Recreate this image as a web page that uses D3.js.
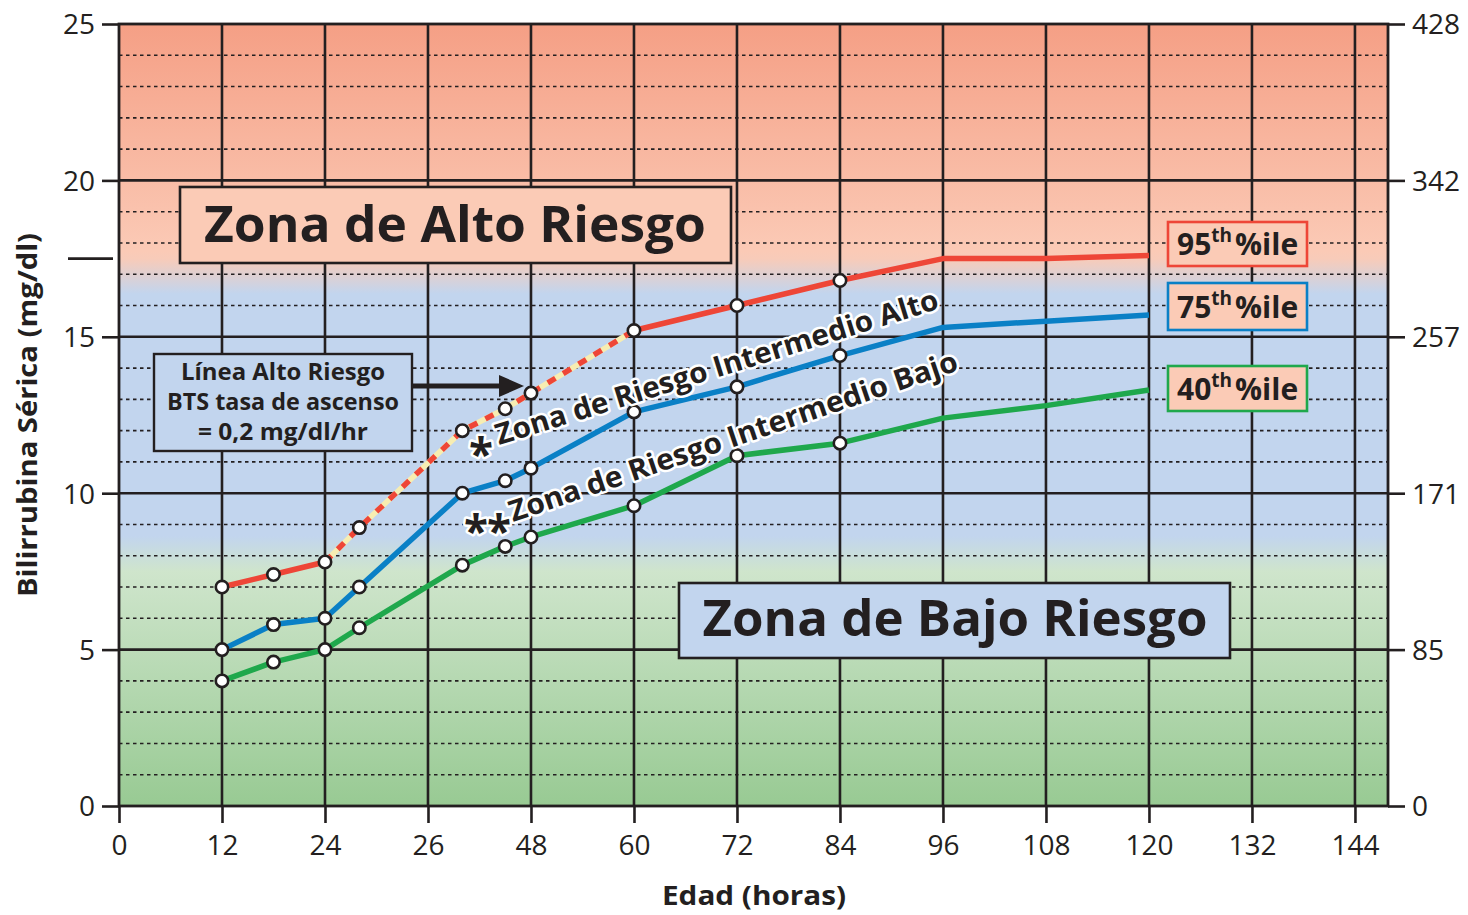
<!DOCTYPE html>
<html><head><meta charset="utf-8">
<script src="https://cdn.jsdelivr.net/npm/d3@7"></script>
<style>
html,body{margin:0;padding:0;background:#fff;}
svg{display:block;font-family:"Open Sans","Noto Sans",sans-serif;}
</style></head>
<body>
<svg id="chart" width="1468" height="915"></svg>
<script>
// ---- data ----
const xTickValues = [0,12,24,36,48,60,72,84,96,108,120,132,144];
const xTickLabels = ["0","12","24","26","48","60","72","84","96","108","120","132","144"];
const yTickValues = [0,5,10,15,20,25];
const yTickLabels = ["0","5","10","15","20","25"];
const yRightLabels = ["0","85","171","257","342","428"];

const hours = [12,18,24,28,40,45,48,60,72,84,96,108,120];
const p95 = [7.0,7.4,7.8,8.9,12.0,12.7,13.2,15.2,16.0,16.8,17.5,17.5,17.6];
const p75 = [5.0,5.8,6.0,7.0,10.0,10.4,10.8,12.6,13.4,14.4,15.3,15.5,15.7];
const p40 = [4.0,4.6,5.0,5.7,7.7,8.3,8.6,9.6,11.2,11.6,12.4,12.8,13.3];
const markerHours = [12,18,24,28,40,45,48,60,72,84];
const dashedRange = [24,60];

const seriesNames = ["95th","75th","40th"];
const seriesColors = ["#ee4637","#0a80c6","#1fa84c"];

// ---- setup ----
const svg = d3.select("#chart");
const L = 119, R = 1388, T = 24, B = 806;
const x = d3.scaleLinear().domain([0,147.85]).range([L,R]);
const y = d3.scaleLinear().domain([0,25]).range([B,T]);
const ink = "#231f20";

// background gradient
const defs = svg.append("defs");
const g = defs.append("linearGradient").attr("id","bg").attr("x1",0).attr("y1",0).attr("x2",0).attr("y2",1);
[[0,"#f59f85"],[0.29,"#fbcab6"],[0.30,"#f8cbb9"],[0.345,"#c2d5ee"],[0.655,"#c2d5ee"],[0.70,"#cfe5cc"],[1,"#98ca93"]]
  .forEach(s=>g.append("stop").attr("offset",s[0]).attr("stop-color",s[1]));
svg.append("rect").attr("x",L).attr("y",T).attr("width",R-L).attr("height",B-T).attr("fill","url(#bg)");

// minor dotted gridlines
const minor = d3.range(1,25).filter(v=>v%5!==0);
svg.append("g").selectAll("line").data(minor).join("line")
  .attr("x1",L).attr("x2",R).attr("y1",d=>y(d)).attr("y2",d=>y(d))
  .attr("stroke",ink).attr("stroke-width",1.6).attr("stroke-dasharray","3.5,3.5");

// major horizontal lines
svg.append("g").selectAll("line").data([5,10,15,20]).join("line")
  .attr("x1",L).attr("x2",R).attr("y1",d=>y(d)).attr("y2",d=>y(d))
  .attr("stroke",ink).attr("stroke-width",2.6);
// vertical lines
svg.append("g").selectAll("line").data(xTickValues.slice(1)).join("line")
  .attr("x1",d=>x(d)).attr("x2",d=>x(d)).attr("y1",T).attr("y2",B)
  .attr("stroke",ink).attr("stroke-width",2.6);

// frame
svg.append("rect").attr("x",L).attr("y",T).attr("width",R-L).attr("height",B-T)
  .attr("fill","none").attr("stroke",ink).attr("stroke-width",2.8);

// axes
const tickFont = 28;
const xAxis = d3.axisBottom(x).tickValues(xTickValues).tickFormat((d,i)=>xTickLabels[i]).tickSize(17).tickPadding(7);
const gx = svg.append("g").attr("transform",`translate(0,${B})`).call(xAxis);
const yAxisL = d3.axisLeft(y).tickValues(yTickValues).tickFormat((d,i)=>yTickLabels[i]).tickSize(17).tickPadding(7);
const gyl = svg.append("g").attr("transform",`translate(${L},0)`).call(yAxisL);
const yAxisR = d3.axisRight(y).tickValues(yTickValues).tickFormat((d,i)=>yRightLabels[i]).tickSize(17).tickPadding(7);
const gyr = svg.append("g").attr("transform",`translate(${R},0)`).call(yAxisR);
[gx,gyl,gyr].forEach(a=>{
  a.select(".domain").remove();
  a.selectAll(".tick line").attr("stroke",ink).attr("stroke-width",2.6);
  a.selectAll(".tick text").attr("fill",ink).attr("font-size",tickFont)
   .attr("font-family","'Open Sans',sans-serif");
});
gx.selectAll(".tick text").attr("dy","0.9em");
gyl.selectAll(".tick text").attr("dy","0.35em");
gyr.selectAll(".tick text").attr("dy","0.35em");

// extra dash on left axis
svg.append("line").attr("x1",68).attr("x2",113).attr("y1",y(17.5)).attr("y2",y(17.5))
  .attr("stroke",ink).attr("stroke-width",2.6);

// axis titles
svg.append("text").attr("transform",`translate(37,415) rotate(-90)`)
  .attr("text-anchor","middle").attr("font-weight","bold").attr("font-size",26).attr("fill",ink)
  .attr("textLength",364).attr("lengthAdjust","spacingAndGlyphs")
  .text("Bilirrubina Sérica (mg/dl)");
svg.append("text").attr("x",754).attr("y",905).attr("text-anchor","middle")
  .attr("font-weight","bold").attr("font-size",27).attr("fill",ink)
  .attr("textLength",184).attr("lengthAdjust","spacingAndGlyphs").text("Edad (horas)");

// zone boxes
function box(x0,y0,w,h,fill,stroke,sw){
  svg.append("rect").attr("x",x0).attr("y",y0).attr("width",w).attr("height",h)
    .attr("fill",fill).attr("stroke",stroke).attr("stroke-width",sw);
}
box(180,187,551,76,"#fbcbb6",ink,2.6);
svg.append("text").attr("x",455).attr("y",242).attr("text-anchor","middle").attr("font-weight","bold")
  .attr("font-size",51).attr("fill",ink).attr("textLength",502).attr("lengthAdjust","spacingAndGlyphs")
  .text("Zona de Alto Riesgo");
box(679,583,551,75,"#c2d5ee",ink,2.6);
svg.append("text").attr("x",955).attr("y",636).attr("text-anchor","middle").attr("font-weight","bold")
  .attr("font-size",51).attr("fill",ink).attr("textLength",505).attr("lengthAdjust","spacingAndGlyphs")
  .text("Zona de Bajo Riesgo");

// BTS box
box(154,354,258,97,"#c2d5ee",ink,2.4);
const btsLines = ["Línea Alto Riesgo","BTS tasa de ascenso","= 0,2 mg/dl/hr"];
const btsWidths = [204,232,170];
btsLines.forEach((t,i)=>{
  svg.append("text").attr("x",283).attr("y",380+i*30).attr("text-anchor","middle")
    .attr("font-weight","bold").attr("font-size",23).attr("fill",ink)
    .attr("textLength",btsWidths[i]).attr("lengthAdjust","spacingAndGlyphs").text(t);
});
// arrow
svg.append("line").attr("x1",412).attr("x2",500).attr("y1",386).attr("y2",386)
  .attr("stroke",ink).attr("stroke-width",5);
svg.append("path").attr("d","M499,375L524,386L499,397z").attr("fill",ink);

// lines
const line = d3.line().x(d=>x(d[0])).y(d=>y(d[1]));
const allSeries = [p95,p75,p40];
[2,1].forEach(si=>{
  const pts = hours.map((h,i)=>[h,allSeries[si][i]]);
  svg.append("path").attr("d",line(pts)).attr("fill","none").attr("stroke",seriesColors[si])
    .attr("stroke-width",5.5).attr("stroke-linejoin","round");
});
{
  const pts = hours.map((h,i)=>[h,p95[i]]);
  const seg1 = pts.filter(p=>p[0]<=dashedRange[0]);
  const seg2 = pts.filter(p=>p[0]>=dashedRange[0]&&p[0]<=dashedRange[1]);
  const seg3 = pts.filter(p=>p[0]>=dashedRange[1]);
  [seg1,seg3].forEach(s=>svg.append("path").attr("d",line(s)).attr("fill","none")
    .attr("stroke",seriesColors[0]).attr("stroke-width",5.5).attr("stroke-linejoin","round"));
  svg.append("path").attr("d",line(seg2)).attr("fill","none").attr("stroke","#f7edb2").attr("stroke-width",5.5);
  svg.append("path").attr("d",line(seg2)).attr("fill","none").attr("stroke",seriesColors[0])
    .attr("stroke-width",5.5).attr("stroke-dasharray","9,9");
}
// markers
allSeries.forEach(s=>{
  const pts = hours.map((h,i)=>[h,s[i]]).filter(p=>markerHours.includes(p[0]));
  svg.append("g").selectAll("circle").data(pts).join("circle")
    .attr("cx",d=>x(d[0])).attr("cy",d=>y(d[1])).attr("r",6.2)
    .attr("fill","#fff").attr("stroke",ink).attr("stroke-width",2.6);
});

// rotated zone labels
function halo(sel){ return sel.attr("stroke","#fff").attr("stroke-width",5).attr("paint-order","stroke").attr("stroke-linejoin","round"); }
halo(svg.append("text").attr("transform","translate(499,445) rotate(-17.2)")
  .attr("font-weight","bold").attr("font-size",29).attr("fill",ink)
  .attr("textLength",462).attr("lengthAdjust","spacingAndGlyphs")
  .text("Zona de Riesgo Intermedio Alto"));
halo(svg.append("text").attr("x",481).attr("y",470).attr("text-anchor","middle")
  .attr("font-weight","bold").attr("font-size",44).attr("fill",ink).text("*"));
halo(svg.append("text").attr("transform","translate(513,522) rotate(-18.8)")
  .attr("font-weight","bold").attr("font-size",29).attr("fill",ink)
  .attr("textLength",472).attr("lengthAdjust","spacingAndGlyphs")
  .text("Zona de Riesgo Intermedio Bajo"));
halo(svg.append("text").attr("x",487).attr("y",547).attr("text-anchor","middle")
  .attr("font-weight","bold").attr("font-size",44).attr("fill",ink).attr("letter-spacing",-1).text("**"));

// percentile labels
const pctBoxes = [[222,266],[283,330],[366,411]];
seriesNames.forEach((n,i)=>{
  const [y0,y1] = pctBoxes[i];
  box(1168,y0,139,y1-y0,"#fbcbb6",seriesColors[i],2.6);
  const t = svg.append("text").attr("x",1177).attr("y",(y0+y1)/2+11).attr("font-weight","bold")
    .attr("font-size",30).attr("fill",ink);
  t.append("tspan").text(n.slice(0,2));
  t.append("tspan").attr("font-size",19).attr("dy",-13).text("th");
  t.append("tspan").attr("dy",13).attr("dx",3).text("%ile");
});
</script>
</body></html>
